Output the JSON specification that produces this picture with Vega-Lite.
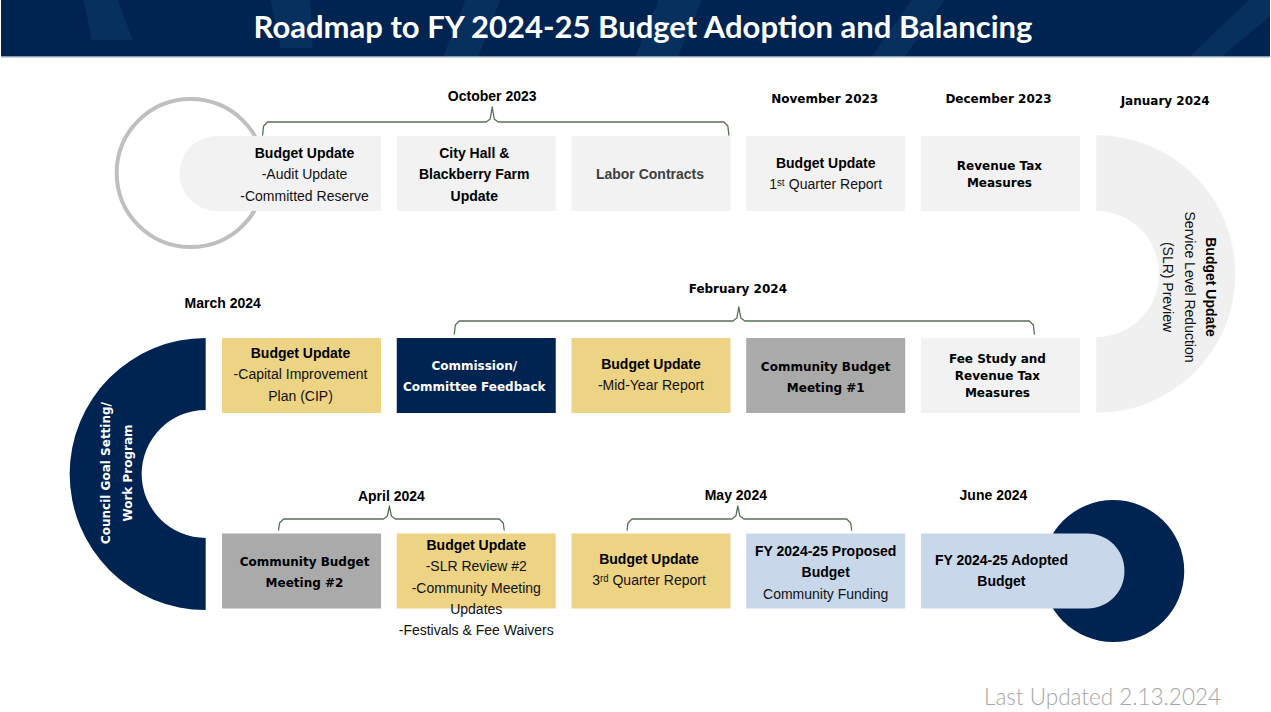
{
  "$schema": "https://vega.github.io/schema/vega-lite/v6.json",
  "width": 1271,
  "height": 712,
  "padding": 0,
  "autosize": {"type": "fit", "contains": "padding"},
  "background": "white",
  "config": {"view": {"stroke": null}},
  "datasets": {
    "header": [{"col": -0.72, "col2": 6.542857, "row": 0.12704, "row2": 0.4138}],
    "stripes": [
      {"s": "A", "row": 0.12704, "col": -0.2457, "col2": -0.0514},
      {"s": "A", "row": 0.3283, "col": -0.2, "col2": 0.0343},
      {"s": "B", "row": 0.12704, "col": 0.8229, "col2": 1.0514},
      {"s": "B", "row": 0.3686, "col": 0.88, "col2": 1.0629},
      {"s": "C", "row": 0.12704, "col": 1.9371, "col2": 2.1371},
      {"s": "C", "row": 0.4138, "col": 1.8114, "col2": 2.0114},
      {"s": "D", "row": 0.12704, "col": 3.0457, "col2": 3.2914},
      {"s": "D", "row": 0.4138, "col": 2.9086, "col2": 3.1543},
      {"s": "E", "row": 0.12704, "col": 4.4914, "col2": 4.68},
      {"s": "E", "row": 0.4138, "col": 4.2629, "col2": 4.4514},
      {"s": "F", "row": 0.12704, "col": 6.4229, "col2": 6.6514},
      {"s": "F", "row": 0.4138, "col": 6.08, "col2": 6.2629}
    ],
    "boxes": [
      {"col": 2, "row": 1, "kind": "info"},
      {"col": 3, "row": 1, "kind": "info"},
      {"col": 4, "row": 1, "kind": "info"},
      {"col": 5, "row": 1, "kind": "info"},
      {"col": 1, "row": 2.0164, "kind": "update"},
      {"col": 2, "row": 2.0164, "kind": "feedback"},
      {"col": 3, "row": 2.0164, "kind": "update"},
      {"col": 4, "row": 2.0164, "kind": "meeting"},
      {"col": 5, "row": 2.0164, "kind": "info"},
      {"col": 1, "row": 3, "kind": "meeting"},
      {"col": 2, "row": 3, "kind": "update"},
      {"col": 3, "row": 3, "kind": "update"},
      {"col": 4, "row": 3, "kind": "budget"}
    ],
    "braces": [
      {"b": "oct", "i": 1, "col": 0.7771, "row": 0.8063},
      {"b": "oct", "i": 2, "col": 0.7829, "row": 0.761},
      {"b": "oct", "i": 3, "col": 0.8057, "row": 0.7409},
      {"b": "oct", "i": 4, "col": 2.0571, "row": 0.7409},
      {"b": "oct", "i": 5, "col": 2.08, "row": 0.7258},
      {"b": "oct", "i": 6, "col": 2.0914, "row": 0.6654},
      {"b": "oct", "i": 7, "col": 2.1029, "row": 0.7258},
      {"b": "oct", "i": 8, "col": 2.1257, "row": 0.7409},
      {"b": "oct", "i": 9, "col": 3.4171, "row": 0.7409},
      {"b": "oct", "i": 10, "col": 3.44, "row": 0.761},
      {"b": "oct", "i": 11, "col": 3.4457, "row": 0.8063},
      {"b": "feb", "i": 1, "col": 1.8743, "row": 1.8075},
      {"b": "feb", "i": 2, "col": 1.88, "row": 1.7623},
      {"b": "feb", "i": 3, "col": 1.9029, "row": 1.7421},
      {"b": "feb", "i": 4, "col": 3.4686, "row": 1.7421},
      {"b": "feb", "i": 5, "col": 3.4914, "row": 1.727},
      {"b": "feb", "i": 6, "col": 3.5029, "row": 1.6717},
      {"b": "feb", "i": 7, "col": 3.5143, "row": 1.727},
      {"b": "feb", "i": 8, "col": 3.5371, "row": 1.7421},
      {"b": "feb", "i": 9, "col": 5.1657, "row": 1.7421},
      {"b": "feb", "i": 10, "col": 5.1886, "row": 1.7623},
      {"b": "feb", "i": 11, "col": 5.1943, "row": 1.8075},
      {"b": "apr", "i": 1, "col": 0.8686, "row": 2.7937},
      {"b": "apr", "i": 2, "col": 0.8743, "row": 2.7585},
      {"b": "apr", "i": 3, "col": 0.8971, "row": 2.7384},
      {"b": "apr", "i": 4, "col": 1.4686, "row": 2.7384},
      {"b": "apr", "i": 5, "col": 1.4914, "row": 2.7233},
      {"b": "apr", "i": 6, "col": 1.5029, "row": 2.673},
      {"b": "apr", "i": 7, "col": 1.5143, "row": 2.7233},
      {"b": "apr", "i": 8, "col": 1.5371, "row": 2.7384},
      {"b": "apr", "i": 9, "col": 2.1314, "row": 2.7384},
      {"b": "apr", "i": 10, "col": 2.1543, "row": 2.7585},
      {"b": "apr", "i": 11, "col": 2.16, "row": 2.7937},
      {"b": "may", "i": 1, "col": 2.8629, "row": 2.7937},
      {"b": "may", "i": 2, "col": 2.8686, "row": 2.7585},
      {"b": "may", "i": 3, "col": 2.8914, "row": 2.7384},
      {"b": "may", "i": 4, "col": 3.4629, "row": 2.7384},
      {"b": "may", "i": 5, "col": 3.4857, "row": 2.7233},
      {"b": "may", "i": 6, "col": 3.4971, "row": 2.673},
      {"b": "may", "i": 7, "col": 3.5086, "row": 2.7233},
      {"b": "may", "i": 8, "col": 3.5314, "row": 2.7384},
      {"b": "may", "i": 9, "col": 4.12, "row": 2.7384},
      {"b": "may", "i": 10, "col": 4.1429, "row": 2.7585},
      {"b": "may", "i": 11, "col": 4.1486, "row": 2.7937}
    ],
    "boldArial": [
      {"col": 1.017, "row": 0.9019, "t": "Budget Update"},
      {"col": 1.9886, "row": 0.9019, "t": "City Hall &\nBlackberry Farm\nUpdate"},
      {"col": 4.0, "row": 0.9522, "t": "Budget Update"},
      {"col": 0.9943, "row": 1.9082, "t": "Budget Update"},
      {"col": 3.0, "row": 1.9635, "t": "Budget Update"},
      {"col": 2.0, "row": 2.8742, "t": "Budget Update"},
      {"col": 2.9886, "row": 2.9447, "t": "Budget Update"},
      {"col": 4.0, "row": 2.9044, "t": "FY 2024-25 Proposed\nBudget"},
      {"col": 5.0057, "row": 2.9497, "t": "FY 2024-25 Adopted\nBudget"},
      {"col": 2.0914, "row": 0.6151, "t": "October 2023"},
      {"col": 0.5486, "row": 1.6566, "t": "March 2024"},
      {"col": 1.5143, "row": 2.6277, "t": "April 2024"},
      {"col": 3.4857, "row": 2.6226, "t": "May 2024"},
      {"col": 4.96, "row": 2.6226, "t": "June 2024"}
    ],
    "regularArial": [
      {"col": 1.017, "row": 0.9019, "t": "\u00a0\n-Audit Update\n-Committed Reserve"},
      {"col": 4.0, "row": 0.9522, "t": "\u00a0\n1ˢᵗ Quarter Report"},
      {"col": 0.9943, "row": 1.9082, "t": "\u00a0\n-Capital Improvement\nPlan (CIP)"},
      {"col": 3.0, "row": 1.9635, "t": "\u00a0\n-Mid-Year Report"},
      {"col": 2.0, "row": 2.8742, "t": "\u00a0\n-SLR Review #2\n-Community Meeting\nUpdates\n-Festivals & Fee Waivers"},
      {"col": 2.9886, "row": 2.9447, "t": "\u00a0\n3ʳᵈ Quarter Report"},
      {"col": 4.0, "row": 3.1208, "t": "Community Funding"}
    ],
    "boldWideTight": [
      {"col": 4.9943, "row": 0.9623, "t": "Revenue Tax\nMeasures"},
      {"col": 4.9829, "row": 1.9333, "t": "Fee Study and\nRevenue Tax\nMeasures"},
      {"col": 3.9943, "row": 0.6252, "t": "November 2023"},
      {"col": 4.9886, "row": 0.6252, "t": "December 2023"},
      {"col": 5.9429, "row": 0.6352, "t": "January 2024"},
      {"col": 3.4971, "row": 1.5811, "t": "February 2024"}
    ],
    "boldWide": [
      {"col": 4.0, "row": 1.9736, "t": "Community Budget\nMeeting #1"},
      {"col": 1.0171, "row": 2.9547, "t": "Community Budget\nMeeting #2"}
    ]
  },
  "layer": [
    {
      "data": {"name": "header"},
      "mark": {"type": "rect", "color": "#002452"},
      "encoding": {
        "x": {"field": "col", "type": "quantitative", "scale": {"domain": [-0.72, 6.542857], "nice": false, "zero": false}, "axis": null},
        "x2": {"field": "col2"},
        "y": {"field": "row", "type": "quantitative", "scale": {"domain": [0.12704, 3.709434], "nice": false, "zero": false, "reverse": true}, "axis": null},
        "y2": {"field": "row2"}
      }
    },
    {
      "data": {"name": "stripes"},
      "mark": {"type": "area", "orient": "horizontal", "color": "#08305f", "opacity": 1, "clip": true},
      "encoding": {
        "y": {"field": "row", "type": "quantitative"},
        "x": {"field": "col", "type": "quantitative"},
        "x2": {"field": "col2"},
        "detail": {"field": "s"}
      }
    },
    {
      "data": {"name": "header"},
      "mark": {"type": "rule", "color": "#b8c4d8", "strokeWidth": 1.5},
      "encoding": {
        "x": {"field": "col", "type": "quantitative"},
        "x2": {"field": "col2"},
        "y": {"field": "row2", "type": "quantitative"}
      }
    },
    {
      "data": {"values": [{"col": 0.3657, "row": 0.9975}]},
      "mark": {"type": "point", "shape": "circle", "filled": false, "size": 21904, "strokeWidth": 4, "stroke": "#bfbfbf", "opacity": 1},
      "encoding": {
        "x": {"field": "col", "type": "quantitative"},
        "y": {"field": "row", "type": "quantitative"}
      }
    },
    {
      "data": {"values": [{"col": 5.6457, "row": 3.0}]},
      "mark": {"type": "point", "shape": "circle", "filled": true, "size": 20164, "color": "#002452", "opacity": 1},
      "encoding": {
        "x": {"field": "col", "type": "quantitative"},
        "y": {"field": "row", "type": "quantitative"}
      }
    },
    {
      "data": {"values": [{"col": 5.5486, "row": 1.5057}]},
      "mark": {"type": "arc", "radius": 139, "radius2": 63, "theta": 0, "theta2": 3.14159265, "color": "#f0f0f0"},
      "encoding": {
        "x": {"field": "col", "type": "quantitative"},
        "y": {"field": "row", "type": "quantitative"}
      }
    },
    {
      "data": {"values": [{"col": 0.4514, "row": 2.5119}]},
      "mark": {"type": "arc", "radius": 136, "radius2": 64, "theta": 3.14159265, "theta2": 6.2831853, "color": "#002452"},
      "encoding": {
        "x": {"field": "col", "type": "quantitative"},
        "y": {"field": "row", "type": "quantitative"}
      }
    },
    {
      "data": {"name": "boxes"},
      "mark": {"type": "rect", "xOffset": -79.5, "x2Offset": 79.5, "yOffset": -37.5, "y2Offset": 37.5},
      "encoding": {
        "x": {"field": "col", "type": "quantitative"},
        "x2": {"field": "col"},
        "y": {"field": "row", "type": "quantitative"},
        "y2": {"field": "row"},
        "color": {"field": "kind", "type": "nominal", "legend": null,
          "scale": {"domain": ["info", "update", "feedback", "meeting", "budget"], "range": ["#f2f2f2", "#edd384", "#002452", "#aaaaaa", "#c8d8ea"]}}
      }
    },
    {
      "data": {"values": [{"col": 1, "row": 1}]},
      "mark": {"type": "rect", "xOffset": -122, "x2Offset": 79.5, "yOffset": -37.5, "y2Offset": 37.5, "cornerRadiusTopLeft": 37.5, "cornerRadiusBottomLeft": 37.5, "color": "#f2f2f2"},
      "encoding": {
        "x": {"field": "col", "type": "quantitative"},
        "x2": {"field": "col"},
        "y": {"field": "row", "type": "quantitative"},
        "y2": {"field": "row"}
      }
    },
    {
      "data": {"values": [{"col": 5, "row": 3}]},
      "mark": {"type": "rect", "xOffset": -79.5, "x2Offset": 124, "yOffset": -37.5, "y2Offset": 37.5, "cornerRadiusTopRight": 37, "cornerRadiusBottomRight": 37, "color": "#c8d8ea"},
      "encoding": {
        "x": {"field": "col", "type": "quantitative"},
        "x2": {"field": "col"},
        "y": {"field": "row", "type": "quantitative"},
        "y2": {"field": "row"}
      }
    },
    {
      "data": {"name": "braces"},
      "mark": {"type": "line", "color": "#557057", "strokeWidth": 1.3, "strokeJoin": "round", "strokeCap": "round"},
      "encoding": {
        "x": {"field": "col", "type": "quantitative"},
        "y": {"field": "row", "type": "quantitative"},
        "detail": {"field": "b"},
        "order": {"field": "i", "type": "quantitative"}
      }
    },
    {
      "data": {"name": "boldArial"},
      "mark": {"type": "text", "font": "Liberation Sans", "fontWeight": "bold", "fontSize": 14, "lineBreak": "\n", "lineHeight": 21.3, "align": "center", "baseline": "middle", "color": "#000000"},
      "encoding": {
        "x": {"field": "col", "type": "quantitative"},
        "y": {"field": "row", "type": "quantitative"},
        "text": {"field": "t"}
      }
    },
    {
      "data": {"name": "regularArial"},
      "mark": {"type": "text", "font": "Liberation Sans", "fontSize": 14, "lineBreak": "\n", "lineHeight": 21.3, "align": "center", "baseline": "middle", "color": "#111111"},
      "encoding": {
        "x": {"field": "col", "type": "quantitative"},
        "y": {"field": "row", "type": "quantitative"},
        "text": {"field": "t"}
      }
    },
    {
      "data": {"values": [{"col": 2.9943, "row": 1.0075, "t": "Labor Contracts"}]},
      "mark": {"type": "text", "font": "Liberation Sans", "fontWeight": "bold", "fontSize": 14, "align": "center", "baseline": "middle", "color": "#404040"},
      "encoding": {
        "x": {"field": "col", "type": "quantitative"},
        "y": {"field": "row", "type": "quantitative"},
        "text": {"field": "t"}
      }
    },
    {
      "data": {"name": "boldWideTight"},
      "mark": {"type": "text", "font": "DejaVu Sans", "fontWeight": "bold", "fontSize": 12, "lineBreak": "\n", "lineHeight": 17, "align": "center", "baseline": "middle", "color": "#000000"},
      "encoding": {
        "x": {"field": "col", "type": "quantitative"},
        "y": {"field": "row", "type": "quantitative"},
        "text": {"field": "t"}
      }
    },
    {
      "data": {"name": "boldWide"},
      "mark": {"type": "text", "font": "DejaVu Sans", "fontWeight": "bold", "fontSize": 12, "lineBreak": "\n", "lineHeight": 21, "align": "center", "baseline": "middle", "color": "#000000"},
      "encoding": {
        "x": {"field": "col", "type": "quantitative"},
        "y": {"field": "row", "type": "quantitative"},
        "text": {"field": "t"}
      }
    },
    {
      "data": {"values": [{"col": 1.9886, "row": 1.9686, "t": "Commission/\nCommittee Feedback"}]},
      "mark": {"type": "text", "font": "DejaVu Sans", "fontWeight": "bold", "fontSize": 12, "lineBreak": "\n", "lineHeight": 21, "align": "center", "baseline": "middle", "color": "#ffffff"},
      "encoding": {
        "x": {"field": "col", "type": "quantitative"},
        "y": {"field": "row", "type": "quantitative"},
        "text": {"field": "t"}
      }
    },
    {
      "data": {"values": [{"col": -0.12, "row": 2.507, "t": "Council Goal Setting/\nWork Program"}]},
      "mark": {"type": "text", "font": "DejaVu Sans", "fontWeight": "bold", "fontSize": 12, "lineBreak": "\n", "lineHeight": 22, "align": "center", "baseline": "middle", "angle": 270, "color": "#ffffff"},
      "encoding": {
        "x": {"field": "col", "type": "quantitative"},
        "y": {"field": "row", "type": "quantitative"},
        "text": {"field": "t"}
      }
    },
    {
      "data": {"values": [{"col": 6.2, "row": 1.5711, "t": "Budget Update"}]},
      "mark": {"type": "text", "font": "Liberation Sans", "fontWeight": "bold", "fontSize": 14, "lineBreak": "\n", "lineHeight": 21.5, "align": "center", "baseline": "middle", "angle": 90, "color": "#000000"},
      "encoding": {
        "x": {"field": "col", "type": "quantitative"},
        "y": {"field": "row", "type": "quantitative"},
        "text": {"field": "t"}
      }
    },
    {
      "data": {"values": [{"col": 6.2, "row": 1.5711, "t": "\u00a0\nService Level Reduction\n(SLR) Preview"}]},
      "mark": {"type": "text", "font": "Liberation Sans", "fontSize": 14, "lineBreak": "\n", "lineHeight": 21.5, "align": "center", "baseline": "middle", "angle": 90, "color": "#111111"},
      "encoding": {
        "x": {"field": "col", "type": "quantitative"},
        "y": {"field": "row", "type": "quantitative"},
        "text": {"field": "t"}
      }
    },
    {
      "data": {"values": [{"col": 2.9543, "row": 0.273, "t": "Roadmap to FY 2024-25 Budget Adoption and Balancing"}]},
      "mark": {"type": "text", "font": "Lato", "fontWeight": "bold", "fontSize": 31, "align": "center", "baseline": "middle", "color": "#ffffff"},
      "encoding": {
        "x": {"field": "col", "type": "quantitative"},
        "y": {"field": "row", "type": "quantitative"},
        "text": {"field": "t"}
      }
    },
    {
      "data": {"values": [{"col": 6.2629, "row": 3.639, "t": "Last Updated 2.13.2024"}]},
      "mark": {"type": "text", "font": "Lato", "fontWeight": 300, "fontSize": 22.5, "align": "right", "baseline": "middle", "color": "#a6a6a6"},
      "encoding": {
        "x": {"field": "col", "type": "quantitative"},
        "y": {"field": "row", "type": "quantitative"},
        "text": {"field": "t"}
      }
    }
  ]
}
